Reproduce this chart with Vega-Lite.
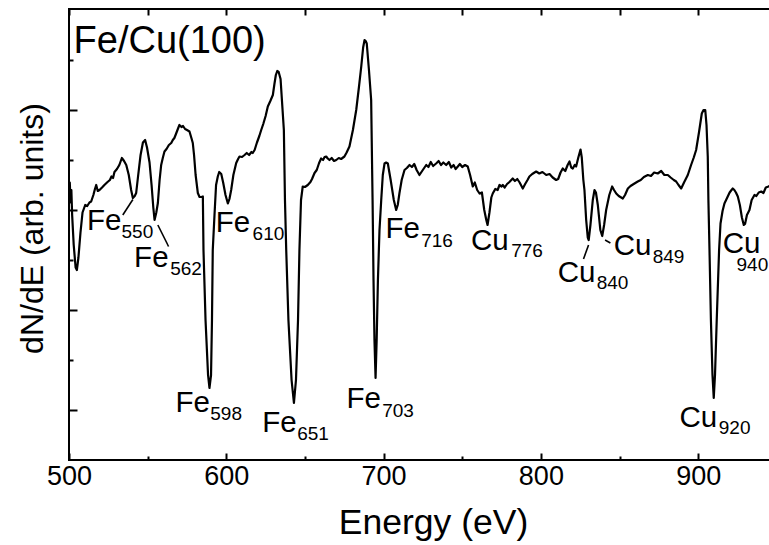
{
  "$schema": "https://vega.github.io/schema/vega-lite/v6.json",
  "width": 702,
  "height": 451,
  "autosize": "none",
  "padding": {"left": 69, "top": 9, "right": 0, "bottom": 85},
  "background": "white",
  "config": {
    "view": {"stroke": "black", "strokeWidth": 2},
    "font": "Liberation Sans",
    "axis": {"grid": false, "domain": false, "tickColor": "black", "tickWidth": 2, "labelColor": "black", "titleColor": "black", "labelFont": "Liberation Sans", "titleFont": "Liberation Sans"}
  },
  "datasets": {
    "curve": [
      {"E":500.0,"y":5.45},{"E":500.5,"y":5.55},{"E":501.0,"y":5.15},{"E":501.5,"y":5.40},{"E":502.0,"y":4.90},{"E":503.0,"y":4.30},{"E":504.2,"y":3.85},{"E":505.0,"y":3.80},{"E":506.0,"y":4.05},{"E":507.3,"y":4.55},{"E":508.6,"y":4.95},{"E":510.3,"y":5.10},{"E":511.6,"y":5.08},{"E":513.0,"y":5.15},{"E":514.1,"y":5.17},{"E":515.5,"y":5.30},{"E":516.5,"y":5.42},{"E":517.3,"y":5.50},{"E":518.3,"y":5.38},{"E":519.4,"y":5.40},{"E":521.0,"y":5.45},{"E":522.5,"y":5.50},{"E":524.5,"y":5.56},{"E":526.0,"y":5.60},{"E":527.0,"y":5.67},{"E":528.0,"y":5.64},{"E":528.9,"y":5.76},{"E":530.5,"y":5.82},{"E":532.0,"y":5.90},{"E":533.6,"y":6.04},{"E":535.0,"y":5.98},{"E":536.4,"y":5.90},{"E":538.0,"y":5.70},{"E":539.5,"y":5.40},{"E":540.6,"y":5.24},{"E":541.8,"y":5.28},{"E":542.7,"y":5.34},{"E":544.0,"y":5.70},{"E":545.5,"y":6.10},{"E":547.0,"y":6.35},{"E":548.4,"y":6.40},{"E":549.6,"y":6.25},{"E":551.2,"y":5.95},{"E":552.5,"y":5.50},{"E":553.6,"y":5.05},{"E":554.4,"y":4.80},{"E":555.5,"y":4.95},{"E":556.5,"y":5.14},{"E":557.6,"y":5.60},{"E":558.6,"y":5.90},{"E":559.7,"y":6.05},{"E":560.7,"y":6.17},{"E":562.0,"y":6.22},{"E":563.5,"y":6.30},{"E":565.0,"y":6.34},{"E":566.0,"y":6.40},{"E":567.0,"y":6.44},{"E":568.0,"y":6.52},{"E":569.2,"y":6.62},{"E":570.2,"y":6.70},{"E":571.5,"y":6.66},{"E":572.5,"y":6.68},{"E":573.8,"y":6.62},{"E":575.0,"y":6.60},{"E":576.6,"y":6.57},{"E":578.0,"y":6.42},{"E":578.7,"y":6.34},{"E":579.5,"y":6.10},{"E":580.5,"y":5.70},{"E":581.9,"y":5.34},{"E":583.0,"y":5.26},{"E":584.2,"y":5.26},{"E":585.1,"y":5.27},{"E":585.5,"y":4.20},{"E":586.8,"y":2.80},{"E":588.4,"y":1.70},{"E":589.3,"y":1.44},{"E":590.3,"y":1.70},{"E":590.9,"y":2.80},{"E":591.4,"y":4.20},{"E":592.5,"y":4.90},{"E":593.5,"y":5.50},{"E":594.6,"y":5.67},{"E":595.5,"y":5.76},{"E":596.8,"y":5.72},{"E":598.0,"y":5.55},{"E":599.5,"y":5.30},{"E":601.0,"y":5.13},{"E":602.0,"y":5.22},{"E":603.1,"y":5.40},{"E":604.5,"y":5.70},{"E":606.3,"y":5.94},{"E":607.5,"y":6.02},{"E":608.4,"y":6.07},{"E":610.0,"y":6.06},{"E":611.6,"y":6.10},{"E":613.0,"y":6.14},{"E":614.5,"y":6.10},{"E":616.0,"y":6.16},{"E":616.8,"y":6.14},{"E":618.0,"y":6.20},{"E":619.5,"y":6.35},{"E":621.0,"y":6.48},{"E":622.2,"y":6.60},{"E":623.5,"y":6.72},{"E":625.0,"y":6.88},{"E":626.4,"y":7.07},{"E":628.0,"y":7.18},{"E":629.6,"y":7.30},{"E":630.6,"y":7.52},{"E":631.5,"y":7.70},{"E":632.4,"y":7.78},{"E":633.3,"y":7.76},{"E":634.5,"y":7.62},{"E":636.6,"y":6.60},{"E":637.3,"y":5.20},{"E":638.1,"y":4.20},{"E":639.5,"y":2.80},{"E":641.5,"y":1.60},{"E":643.0,"y":1.14},{"E":644.3,"y":1.60},{"E":645.6,"y":2.80},{"E":646.5,"y":4.20},{"E":647.5,"y":5.20},{"E":648.6,"y":5.47},{"E":650.0,"y":5.46},{"E":651.8,"y":5.50},{"E":653.5,"y":5.56},{"E":654.5,"y":5.62},{"E":656.1,"y":5.74},{"E":657.5,"y":5.80},{"E":659.0,"y":5.94},{"E":660.3,"y":6.03},{"E":661.5,"y":6.00},{"E":662.5,"y":6.06},{"E":663.5,"y":6.07},{"E":664.5,"y":6.03},{"E":665.6,"y":6.00},{"E":667.0,"y":6.04},{"E":668.5,"y":5.98},{"E":669.9,"y":6.00},{"E":671.5,"y":6.04},{"E":673.0,"y":6.02},{"E":675.1,"y":6.07},{"E":676.5,"y":6.15},{"E":678.3,"y":6.27},{"E":680.5,"y":6.60},{"E":682.6,"y":7.00},{"E":684.3,"y":7.45},{"E":685.8,"y":7.87},{"E":687.0,"y":8.25},{"E":687.9,"y":8.40},{"E":688.6,"y":8.38},{"E":689.3,"y":8.33},{"E":690.7,"y":7.80},{"E":692.1,"y":7.20},{"E":693.0,"y":5.20},{"E":693.6,"y":3.60},{"E":694.2,"y":2.40},{"E":694.9,"y":1.64},{"E":695.6,"y":2.40},{"E":696.4,"y":3.60},{"E":697.4,"y":4.60},{"E":698.5,"y":5.20},{"E":699.5,"y":5.70},{"E":700.6,"y":5.93},{"E":701.6,"y":5.95},{"E":702.7,"y":5.93},{"E":704.5,"y":5.60},{"E":706.5,"y":5.20},{"E":708.0,"y":5.00},{"E":709.0,"y":5.10},{"E":710.1,"y":5.34},{"E":711.5,"y":5.60},{"E":713.3,"y":5.80},{"E":714.8,"y":5.84},{"E":716.5,"y":5.90},{"E":718.0,"y":5.86},{"E":719.5,"y":5.92},{"E":721.0,"y":5.80},{"E":722.8,"y":5.70},{"E":724.5,"y":5.78},{"E":725.8,"y":5.84},{"E":727.1,"y":5.90},{"E":728.5,"y":5.86},{"E":730.0,"y":5.96},{"E":731.5,"y":5.88},{"E":733.4,"y":5.93},{"E":735.0,"y":5.98},{"E":736.5,"y":5.90},{"E":738.0,"y":5.95},{"E":739.8,"y":5.90},{"E":741.5,"y":5.96},{"E":743.0,"y":5.85},{"E":744.5,"y":5.90},{"E":745.8,"y":5.82},{"E":747.2,"y":5.87},{"E":748.5,"y":5.92},{"E":750.0,"y":5.86},{"E":751.8,"y":5.90},{"E":753.5,"y":5.87},{"E":755.0,"y":5.70},{"E":756.7,"y":5.47},{"E":758.0,"y":5.55},{"E":759.5,"y":5.40},{"E":761.0,"y":5.33},{"E":762.5,"y":5.35},{"E":764.0,"y":5.00},{"E":765.3,"y":4.80},{"E":766.1,"y":4.70},{"E":767.3,"y":4.95},{"E":768.5,"y":5.25},{"E":769.4,"y":5.33},{"E":771.0,"y":5.42},{"E":772.5,"y":5.40},{"E":773.7,"y":5.50},{"E":775.0,"y":5.47},{"E":775.8,"y":5.50},{"E":777.0,"y":5.45},{"E":778.5,"y":5.52},{"E":780.0,"y":5.56},{"E":782.1,"y":5.63},{"E":783.5,"y":5.58},{"E":785.0,"y":5.62},{"E":786.5,"y":5.55},{"E":788.5,"y":5.43},{"E":790.0,"y":5.52},{"E":791.5,"y":5.60},{"E":792.7,"y":5.67},{"E":794.5,"y":5.72},{"E":797.0,"y":5.77},{"E":799.0,"y":5.73},{"E":801.0,"y":5.76},{"E":803.4,"y":5.70},{"E":805.5,"y":5.72},{"E":807.5,"y":5.65},{"E":809.7,"y":5.60},{"E":811.0,"y":5.62},{"E":812.5,"y":5.75},{"E":813.9,"y":5.83},{"E":815.5,"y":5.78},{"E":817.0,"y":5.90},{"E":818.2,"y":5.97},{"E":819.3,"y":5.85},{"E":820.3,"y":5.83},{"E":821.5,"y":5.90},{"E":822.4,"y":5.87},{"E":823.8,"y":6.05},{"E":825.2,"y":6.21},{"E":826.0,"y":6.05},{"E":827.0,"y":5.60},{"E":827.7,"y":5.40},{"E":828.8,"y":4.80},{"E":829.8,"y":4.45},{"E":830.4,"y":4.40},{"E":831.5,"y":4.70},{"E":833.0,"y":5.20},{"E":834.1,"y":5.40},{"E":835.0,"y":5.35},{"E":836.2,"y":5.10},{"E":837.8,"y":4.60},{"E":839.0,"y":4.48},{"E":840.2,"y":4.70},{"E":841.5,"y":5.00},{"E":843.5,"y":5.30},{"E":845.3,"y":5.47},{"E":846.5,"y":5.40},{"E":847.9,"y":5.33},{"E":849.5,"y":5.28},{"E":852.1,"y":5.23},{"E":853.5,"y":5.30},{"E":855.3,"y":5.43},{"E":857.0,"y":5.48},{"E":859.0,"y":5.52},{"E":861.6,"y":5.57},{"E":863.5,"y":5.60},{"E":865.5,"y":5.66},{"E":868.0,"y":5.70},{"E":870.0,"y":5.68},{"E":872.0,"y":5.75},{"E":874.3,"y":5.73},{"E":876.5,"y":5.78},{"E":878.5,"y":5.70},{"E":880.7,"y":5.70},{"E":882.5,"y":5.65},{"E":884.5,"y":5.60},{"E":886.0,"y":5.57},{"E":887.5,"y":5.50},{"E":889.2,"y":5.43},{"E":891.0,"y":5.55},{"E":893.4,"y":5.70},{"E":895.5,"y":5.90},{"E":897.2,"y":6.05},{"E":898.7,"y":6.20},{"E":900.5,"y":6.55},{"E":902.3,"y":6.93},{"E":903.4,"y":7.00},{"E":904.5,"y":7.00},{"E":905.3,"y":6.70},{"E":906.1,"y":6.07},{"E":906.5,"y":5.20},{"E":907.2,"y":4.20},{"E":908.1,"y":2.80},{"E":909.1,"y":1.70},{"E":909.9,"y":1.24},{"E":910.7,"y":1.70},{"E":911.8,"y":2.80},{"E":913.3,"y":4.20},{"E":914.2,"y":4.73},{"E":915.5,"y":4.98},{"E":916.7,"y":5.13},{"E":918.5,"y":5.25},{"E":920.0,"y":5.35},{"E":921.2,"y":5.40},{"E":922.0,"y":5.43},{"E":923.0,"y":5.40},{"E":924.0,"y":5.35},{"E":925.2,"y":5.27},{"E":926.5,"y":5.10},{"E":927.8,"y":4.85},{"E":929.0,"y":4.70},{"E":929.8,"y":4.72},{"E":931.0,"y":4.90},{"E":932.6,"y":5.00},{"E":934.0,"y":5.20},{"E":935.8,"y":5.30},{"E":937.0,"y":5.28},{"E":938.5,"y":5.35},{"E":940.1,"y":5.37},{"E":941.5,"y":5.34},{"E":943.0,"y":5.45},{"E":944.7,"y":5.47},{"E":946.3,"y":5.50}
    ],
    "labels": [
      {"kind":"main","t":"Fe","E":511.5,"y":4.60},{"kind":"sub","t":"550","E":533.4,"y":4.44},
      {"kind":"main","t":"Fe","E":541.4,"y":3.866},{"kind":"sub","t":"562","E":564.3,"y":3.70},
      {"kind":"main","t":"Fe","E":593.3,"y":4.56},{"kind":"sub","t":"610","E":616.7,"y":4.40},
      {"kind":"main","t":"Fe","E":567.7,"y":0.954},{"kind":"sub","t":"598","E":589.8,"y":0.80},
      {"kind":"main","t":"Fe","E":622.8,"y":0.566},{"kind":"sub","t":"651","E":645.1,"y":0.40},
      {"kind":"main","t":"Fe","E":676.4,"y":1.034},{"kind":"sub","t":"703","E":699.1,"y":0.866},
      {"kind":"main","t":"Fe","E":701.2,"y":4.434},{"kind":"sub","t":"716","E":723.9,"y":4.266},
      {"kind":"main","t":"Cu","E":755.6,"y":4.20},{"kind":"sub","t":"776","E":781.1,"y":4.054},
      {"kind":"main","t":"Cu","E":810.7,"y":3.566},{"kind":"sub","t":"840","E":835.5,"y":3.414},
      {"kind":"main","t":"Cu","E":846.3,"y":4.10},{"kind":"sub","t":"849","E":871.1,"y":3.94},
      {"kind":"main","t":"Cu","E":888.1,"y":0.666},{"kind":"sub","t":"920","E":913.1,"y":0.52},
      {"kind":"main","t":"Cu","E":915.6,"y":4.134},{"kind":"sub","t":"940","E":924.4,"y":3.78},
      {"kind":"title","t":"Fe/Cu(100)","E":502.9,"y":8.134}
    ],
    "leaders": [
      {"E1":534.2,"y1":4.90,"E2":540.6,"y2":5.21},
      {"E1":556.5,"y1":4.70,"E2":563.3,"y2":4.27},
      {"E1":827.1,"y1":4.02,"E2":830.3,"y2":4.30},
      {"E1":840.8,"y1":4.40,"E2":844.2,"y2":4.34}
    ]
  },
  "resolve": {"axis": {"x": "independent", "y": "independent"}},
  "layer": [
    {
      "data": {"name": "curve"},
      "mark": {"type": "line", "color": "black", "strokeWidth": 2.2, "strokeJoin": "round"},
      "encoding": {
        "x": {"field": "E", "type": "quantitative", "scale": {"domain": [500, 946.3], "nice": false, "zero": false},
          "axis": {"orient": "bottom", "values": [500, 600, 700, 800, 900], "tickSize": -7, "labelPadding": 10, "labelFontSize": 27, "labelFlush": false,
            "title": "Energy (eV)", "titleFontSize": 35.5, "titleFontWeight": "normal", "titleX": 364, "titleY": 73, "titleBaseline": "alphabetic", "titleAlign": "center", "titleAnchor": null}},
        "y": {"field": "y", "type": "quantitative", "scale": {"domain": [0, 9.02], "nice": false, "zero": false},
          "axis": {"orient": "left", "values": [1, 3, 5, 7], "tickSize": -8, "labels": false,
            "title": "dN/dE (arb. units)", "titleFontSize": 32, "titleFontWeight": "normal", "titleX": -27, "titleY": 219, "titleBaseline": "alphabetic", "titleAlign": "center", "titleAngle": -90}}
      }
    },
    {
      "data": {"name": "labels"},
      "transform": [{"filter": "datum.kind === 'main'"}],
      "mark": {"type": "text", "align": "left", "baseline": "alphabetic", "fontSize": 29.5, "font": "Liberation Sans", "color": "black"},
      "encoding": {
        "x": {"field": "E", "type": "quantitative", "axis": {"orient": "bottom", "values": [550, 650, 750, 850], "tickSize": -4, "labels": false, "title": null}},
        "y": {"field": "y", "type": "quantitative", "axis": {"orient": "left", "values": [2, 4, 6, 8], "tickSize": -4, "labels": false, "title": null}},
        "text": {"field": "t"}
      }
    },
    {
      "data": {"name": "labels"},
      "transform": [{"filter": "datum.kind === 'sub'"}],
      "mark": {"type": "text", "align": "left", "baseline": "alphabetic", "fontSize": 19, "font": "Liberation Sans", "color": "black"},
      "encoding": {
        "x": {"field": "E", "type": "quantitative", "axis": {"orient": "top", "values": [500, 550, 600, 650, 700, 750, 800, 850, 900], "tickSize": -6, "labels": false, "title": null}},
        "y": {"field": "y", "type": "quantitative", "axis": null},
        "text": {"field": "t"}
      }
    },
    {
      "data": {"name": "labels"},
      "transform": [{"filter": "datum.kind === 'title'"}],
      "mark": {"type": "text", "align": "left", "baseline": "alphabetic", "fontSize": 38, "font": "Liberation Sans", "color": "black"},
      "encoding": {
        "x": {"field": "E", "type": "quantitative", "axis": null},
        "y": {"field": "y", "type": "quantitative", "axis": null},
        "text": {"field": "t"}
      }
    },
    {
      "data": {"name": "leaders"},
      "mark": {"type": "rule", "color": "black", "strokeWidth": 1.6},
      "encoding": {
        "x": {"field": "E1", "type": "quantitative", "axis": null},
        "x2": {"field": "E2"},
        "y": {"field": "y1", "type": "quantitative", "axis": null},
        "y2": {"field": "y2"}
      }
    }
  ]
}
